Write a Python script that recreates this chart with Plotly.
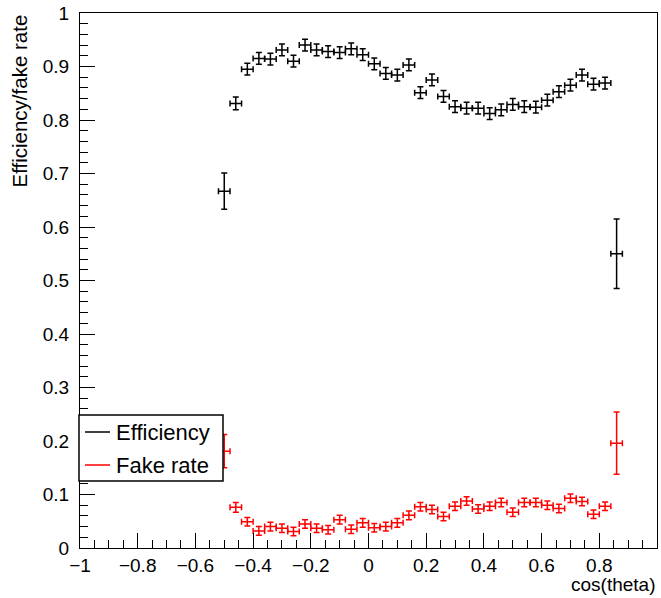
import plotly.graph_objects as go

# ---- data ----
cos_theta = [-0.50, -0.46, -0.42, -0.38, -0.34, -0.30, -0.26, -0.22, -0.18, -0.14,
             -0.10, -0.06, -0.02, 0.02, 0.06, 0.10, 0.14, 0.18, 0.22, 0.26,
             0.30, 0.34, 0.38, 0.42, 0.46, 0.50, 0.54, 0.58, 0.62, 0.66,
             0.70, 0.74, 0.78, 0.82, 0.86]
bin_half_width = 0.02

efficiency = [0.667, 0.831, 0.895, 0.915, 0.914, 0.931, 0.910, 0.940, 0.931, 0.928,
              0.926, 0.933, 0.922, 0.905, 0.887, 0.884, 0.903, 0.851, 0.875, 0.844,
              0.825, 0.822, 0.822, 0.812, 0.819, 0.829, 0.825, 0.824, 0.837, 0.853,
              0.865, 0.884, 0.867, 0.869, 0.550]
efficiency_err = [0.034, 0.012, 0.011, 0.011, 0.011, 0.011, 0.011, 0.011, 0.011, 0.011,
                  0.011, 0.011, 0.011, 0.011, 0.011, 0.011, 0.011, 0.011, 0.011, 0.011,
                  0.011, 0.011, 0.011, 0.011, 0.011, 0.011, 0.011, 0.011, 0.011, 0.011,
                  0.011, 0.011, 0.011, 0.011, 0.065]

fake_rate = [0.181, 0.076, 0.049, 0.032, 0.040, 0.037, 0.031, 0.045, 0.037, 0.034,
             0.053, 0.035, 0.047, 0.038, 0.040, 0.047, 0.061, 0.077, 0.072, 0.059,
             0.078, 0.088, 0.073, 0.078, 0.085, 0.067, 0.085, 0.085, 0.080, 0.074,
             0.093, 0.087, 0.063, 0.078, 0.196]
fake_rate_err = [0.031, 0.009, 0.008, 0.008, 0.008, 0.008, 0.008, 0.008, 0.008, 0.008,
                 0.008, 0.008, 0.008, 0.008, 0.008, 0.008, 0.008, 0.008, 0.008, 0.008,
                 0.008, 0.008, 0.008, 0.008, 0.008, 0.008, 0.008, 0.008, 0.008, 0.008,
                 0.008, 0.008, 0.008, 0.008, 0.058]

series_names = ["Efficiency", "Fake rate"]
series_colors = ["#000000", "#ff0000"]

x_title = "cos(theta)"
y_title = "Efficiency/fake rate"

FONT = "Liberation Sans, Arial, Helvetica, sans-serif"
FS = 19

W, H = 661, 598
ML, MR, MT, MB = 80, 4, 13, 50
PW, PH = W - ML - MR, H - MT - MB


def px(xpix):
    return (xpix - ML) / PW


def py(ypix):
    return (H - MB - ypix) / PH


fig = go.Figure()
for yv, ye, name, col in [(efficiency, efficiency_err, series_names[0], series_colors[0]),
                          (fake_rate, fake_rate_err, series_names[1], series_colors[1])]:
    fig.add_trace(go.Scatter(
        x=cos_theta, y=yv, mode="markers", name=name, showlegend=False,
        marker=dict(size=1, color=col),
        error_y=dict(type="data", array=ye, color=col, thickness=1.5, width=3),
        error_x=dict(type="constant", value=bin_half_width, color=col, thickness=1.5, width=3),
    ))

axis_common = dict(
    showgrid=False, zeroline=False, showline=True, linecolor="black", linewidth=1,
    mirror=True, ticks="inside", tickcolor="black", tickwidth=1, ticklen=15,
    tickfont=dict(family=FONT, size=FS, color="black"),
)
fig.update_xaxes(range=[-1, 1], dtick=0.2, tick0=-1, ticklabelstandoff=0,
                 minor=dict(dtick=0.05, ticks="inside", ticklen=8, tickcolor="black", tickwidth=1),
                 **axis_common)
fig.update_yaxes(range=[0, 1], dtick=0.1, tick0=0, ticklabelstandoff=6,
                 minor=dict(dtick=0.02, ticks="inside", ticklen=8, tickcolor="black", tickwidth=1),
                 **axis_common)

# legend box (drawn manually, ROOT TLegend style)
shapes = [dict(type="rect", xref="paper", yref="paper", x0=px(79), x1=px(223), y0=py(481), y1=py(415),
               line=dict(color="black", width=1.5), fillcolor="white", layer="above")]
annotations = []
for i, (name, col) in enumerate(zip(series_names, series_colors)):
    yrow = 432 + i * 33
    shapes.append(dict(type="line", xref="paper", yref="paper", x0=px(85), x1=px(110),
                       y0=py(yrow), y1=py(yrow), line=dict(color=col, width=1.5), layer="above"))
    annotations.append(dict(text=name, xref="paper", yref="paper", x=px(114), y=py(yrow),
                            xanchor="left", yanchor="middle", showarrow=False,
                            font=dict(family=FONT, size=22, color="black")))

annotations.append(dict(text=y_title, xref="paper", yref="paper", x=px(19), y=1.0,
                        xanchor="center", yanchor="top", textangle=-90, showarrow=False,
                        font=dict(family=FONT, size=20.5, color="black")))
annotations.append(dict(text=x_title, xref="paper", yref="paper", x=1.0, y=py(584),
                        xanchor="right", yanchor="middle", showarrow=False,
                        font=dict(family=FONT, size=FS, color="black")))

fig.update_layout(
    width=W, height=H, margin=dict(l=ML, r=MR, t=MT, b=MB),
    paper_bgcolor="white", plot_bgcolor="white",
    shapes=shapes, annotations=annotations, showlegend=False,
    font=dict(family=FONT, size=FS, color="black"),
)

fig.write_html("out.html")
